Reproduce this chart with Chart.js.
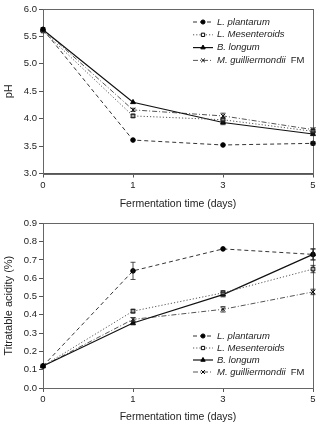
<!DOCTYPE html>
<html><head><meta charset="utf-8">
<script src="https://cdn.jsdelivr.net/npm/chart.js@4"></script>
<style>
html,body{margin:0;padding:0;background:#fff;}
#w{position:relative;width:318px;height:423px;}
.c{position:absolute;left:0;width:318px;}
</style></head><body>
<div id="w">
<div class="c" style="top:0;height:210px"><canvas id="c1" width="318" height="210"></canvas></div>
<div class="c" style="top:210px;height:213px"><canvas id="c2" width="318" height="213"></canvas></div>
</div>
<script>
// ---- data ----
const days = ['0', '1', '3', '5'];
const seriesNames = ['L. plantarum', 'L. Mesenteroids', 'B. longum', 'M. guilliermondii'];
const phPlantarum    = [5.63, 3.61, 3.52, 3.55];
const phMesenteroids = [5.60, 4.05, 3.98, 3.77];
const phLongum       = [5.62, 4.30, 3.93, 3.72];
const phGuill        = [5.63, 4.16, 4.05, 3.80];
const phErrPlantarum    = [0.02, 0.02, 0.01, 0.03];
const phErrMesenteroids = [0.02, 0.03, 0.04, 0.03];
const phErrLongum       = [0.02, 0.02, 0.04, 0.03];
const phErrGuill        = [0.02, 0.03, 0.05, 0.03];
const acPlantarum    = [0.12, 0.64, 0.76, 0.73];
const acMesenteroids = [0.12, 0.42, 0.52, 0.65];
const acLongum       = [0.12, 0.355, 0.51, 0.73];
const acGuill        = [0.12, 0.375, 0.43, 0.525];
const acErrPlantarum    = [0.005, 0.047, 0.006, 0.03];
const acErrMesenteroids = [0.005, 0.01, 0.012, 0.02];
const acErrLongum       = [0.005, 0.01, 0.012, 0.03];
const acErrGuill        = [0.005, 0.01, 0.015, 0.015];
const phTicks = [3.0, 3.5, 4.0, 4.5, 5.0, 5.5, 6.0];
const acTicks = [0.0, 0.1, 0.2, 0.3, 0.4, 0.5, 0.6, 0.7, 0.8, 0.9];

const FONT = "'Liberation Sans', Arial, sans-serif";
const styles = [
  {dash:[4,3], color:'#333', point:'circle', r:2.3, fill:'#000', width:1},
  {dash:[1.2,2], color:'#555', point:'rect', r:2.6, fill:'#fff', width:1},
  {dash:[], color:'#111', point:'triangle', r:2.8, fill:'#000', width:1.2},
  {dash:[5,2,1,2], color:'#555', point:'crossRot', r:3, fill:'#000', width:1}
];

function makeDatasets(vals, errs){
  return vals.map((v,i)=>({
    label: seriesNames[i], data: v, errors: errs[i],
    borderColor: styles[i].color, borderWidth: styles[i].width, borderDash: styles[i].dash,
    pointStyle: styles[i].point, pointRadius: styles[i].r, pointBackgroundColor: styles[i].fill,
    pointBorderColor: '#000', pointBorderWidth: 1, tension: 0, fill:false
  }));
}

const errPlugin = {
  id:'err',
  afterDatasetsDraw(chart){
    const ctx = chart.ctx, y = chart.scales.y;
    chart.data.datasets.forEach((ds,di)=>{
      const meta = chart.getDatasetMeta(di);
      meta.data.forEach((pt,j)=>{
        const e = ds.errors[j]; if(!e) return;
        const v = ds.data[j];
        const y1 = y.getPixelForValue(v+e), y2 = y.getPixelForValue(v-e);
        if (Math.abs(y2-y1) < 3) return;
        ctx.save(); ctx.strokeStyle='#222'; ctx.lineWidth=0.8; ctx.setLineDash([]);
        ctx.beginPath();
        ctx.moveTo(pt.x,y1); ctx.lineTo(pt.x,y2);
        ctx.moveTo(pt.x-2.5,y1); ctx.lineTo(pt.x+2.5,y1);
        ctx.moveTo(pt.x-2.5,y2); ctx.lineTo(pt.x+2.5,y2);
        ctx.stroke(); ctx.restore();
      });
    });
  }
};
const boxPlugin = {
  id:'box',
  beforeDatasetsDraw(chart){
    const a = chart.chartArea, ctx = chart.ctx;
    ctx.save(); ctx.strokeStyle='#666'; ctx.lineWidth=1; ctx.setLineDash([]);
    ctx.strokeRect(Math.round(a.left)+0.5, Math.round(a.top)+0.5, Math.round(a.right-a.left), Math.round(a.bottom-a.top));
    ctx.restore();
  }
};
const legPlugin = {
  id:'leg',
  afterDraw(chart, args, opts){
    const ctx = chart.ctx;
    chart.data.datasets.forEach((ds,i)=>{
      const yy = opts.y + i*opts.dy, x0 = opts.x;
      ctx.save();
      ctx.strokeStyle = ds.borderColor; ctx.lineWidth = ds.borderWidth; ctx.setLineDash(ds.borderDash);
      ctx.beginPath(); ctx.moveTo(x0, yy); ctx.lineTo(x0+20, yy); ctx.stroke();
      ctx.setLineDash([]);
      ctx.strokeStyle='#000'; ctx.fillStyle = ds.pointBackgroundColor; ctx.lineWidth=1;
      Chart.helpers.drawPoint(ctx, {pointStyle: ds.pointStyle, radius: ds.pointRadius*0.9, borderWidth:1}, x0+10, yy);
      ctx.fillStyle='#222'; ctx.textBaseline='middle'; ctx.textAlign='left';
      ctx.font = 'italic 9.5px ' + FONT;
      ctx.fillText(ds.label, x0+24, yy);
      if (i===3){
        const w = ctx.measureText(ds.label).width;
        ctx.font = '9.5px ' + FONT;
        ctx.fillText('FM', x0+24+w+5, yy);
      }
      ctx.restore();
    });
  }
};

function makeChart(id, vals, errs, ymin, ymax, step, yTicks, ytitle, plotTop, plotBottom, H, leg){
  return new Chart(document.getElementById(id), {
    type:'line',
    data:{labels: days, datasets: makeDatasets(vals, errs)},
    options:{
      responsive:false, animation:false, devicePixelRatio:1,
      layout:{padding:{top:plotTop, right:5, left:2, bottom:0}},
      plugins:{legend:{display:false}, tooltip:{enabled:false}, leg: leg},
      scales:{
        x:{type:'category', offset:false,
          grid:{display:true, drawOnChartArea:false, drawTicks:true, tickLength:4, color:'#555'},
          border:{color:'#555'},
          ticks:{font:{family:FONT, size:9.5}, color:'#222', padding:2, maxRotation:0},
          title:{display:true, text:'Fermentation time (days)', font:{family:FONT, size:10.5}, color:'#222', padding:{top:3,bottom:0}},
          afterFit(s){ s.height = H - plotBottom; }
        },
        y:{min:ymin, max:ymax,
          afterBuildTicks(s){ s.ticks = yTicks.map(v=>({value:v})); },
          grid:{display:true, drawOnChartArea:false, drawTicks:true, tickLength:4, color:'#555'},
          border:{color:'#555'},
          ticks:{font:{family:FONT, size:9.5}, color:'#222', padding:2, callback:v=>v.toFixed(1)},
          title:{display:true, text:ytitle, font:{family:FONT, size:11}, color:'#222', padding:{top:0,bottom:2}},
          afterFit(s){ s.width = 41; }
        }
      }
    },
    plugins:[boxPlugin, errPlugin, legPlugin]
  });
}

makeChart('c1', [phPlantarum, phMesenteroids, phLongum, phGuill],
  [phErrPlantarum, phErrMesenteroids, phErrLongum, phErrGuill],
  3.0, 6.0, 0.5, phTicks, 'pH', 9, 173.5, 210, {x:193, y:22, dy:12.8});
makeChart('c2', [acPlantarum, acMesenteroids, acLongum, acGuill],
  [acErrPlantarum, acErrMesenteroids, acErrLongum, acErrGuill],
  0.0, 0.9, 0.1, acTicks, 'Titratable acidity (%)', 13.3, 178, 213, {x:193, y:126, dy:12});
</script>
</body></html>
